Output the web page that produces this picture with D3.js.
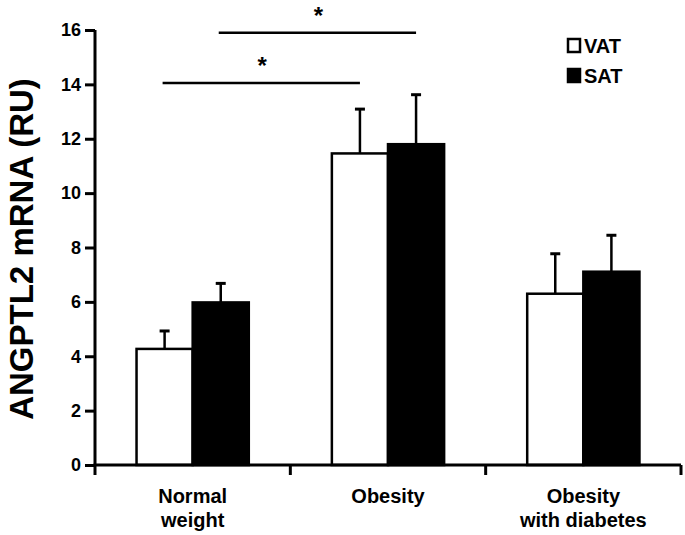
<!DOCTYPE html>
<html><head><meta charset="utf-8">
<script src="https://cdn.jsdelivr.net/npm/d3@7"></script>
<style>body{margin:0;background:#fff}svg{display:block;font-family:Arial,"Liberation Sans",sans-serif;font-weight:bold}</style>
</head><body>
<script>
const categories = [["Normal","weight"],["Obesity"],["Obesity","with diabetes"]];
const categoryKeys = ["Normal weight","Obesity","Obesity with diabetes"];
const seriesNames = ["VAT","SAT"];
const vatMean = [4.27, 11.46, 6.30];
const vatErr = [0.66, 1.63, 1.47];
const satMean = [5.98, 11.80, 7.11];
const satErr = [0.70, 1.82, 1.34];
const yTicks = [0,2,4,6,8,10,12,14,16];
const sigPairs = [
  {from:[0,"VAT"], to:[1,"VAT"], y:14.05, label:"*"},
  {from:[0,"SAT"], to:[1,"SAT"], y:15.9, label:"*"}
];

const W=685,H=535;
const svg=d3.select("body").append("svg").attr("width",W).attr("height",H);
const y=d3.scaleLinear().domain([0,16]).range([465,30]);
const x0=d3.scaleBand().domain(categoryKeys).range([95,681]).paddingInner(0).paddingOuter(0);
const x1=d3.scaleBand().domain(seriesNames).range([0,x0.bandwidth()]).paddingInner(0).paddingOuter(0.74);

const data=categoryKeys.map((k,i)=>({k,vals:[
  {s:"VAT",v:vatMean[i],e:vatErr[i]},{s:"SAT",v:satMean[i],e:satErr[i]}]}));

const g=svg.append("g");
const grp=g.selectAll(".grp").data(data).join("g").attr("transform",d=>`translate(${x0(d.k)},0)`);
grp.selectAll(".err").data(d=>d.vals).join("g").each(function(d){
  const cx=x1(d.s)+x1.bandwidth()/2;
  const s=d3.select(this);
  s.append("line").attr("x1",cx).attr("x2",cx).attr("y1",y(d.v)).attr("y2",y(d.v+d.e)).attr("stroke","#000").attr("stroke-width",2.5);
  s.append("line").attr("x1",cx-5).attr("x2",cx+5).attr("y1",y(d.v+d.e)).attr("y2",y(d.v+d.e)).attr("stroke","#000").attr("stroke-width",3);
});
grp.selectAll("rect").data(d=>d.vals).join("rect")
  .attr("x",d=>x1(d.s)).attr("width",x1.bandwidth())
  .attr("y",d=>y(d.v)).attr("height",d=>y(0)-y(d.v))
  .attr("fill",d=>d.s==="VAT"?"#fff":"#000").attr("stroke","#000").attr("stroke-width",2.5);

// y axis
const ya=svg.append("g").attr("transform","translate(95,0)")
  .call(d3.axisLeft(y).tickValues(yTicks).tickSize(10).tickPadding(4).tickFormat(d3.format("d")));
ya.select(".domain").attr("stroke-width",3).attr("d",`M0,${y(0)}V${y(16)}`);
ya.selectAll(".tick line").attr("stroke-width",3);
ya.selectAll("text").attr("font-size",18).attr("font-weight","bold").attr("font-family","Arial,'Liberation Sans',sans-serif").attr("fill","#000");

// x axis
const xa=svg.append("g").attr("transform",`translate(0,${y(0)})`);
xa.append("line").attr("x1",93.5).attr("x2",681).attr("y1",0).attr("y2",0).attr("stroke","#000").attr("stroke-width",3);
const bounds=[95,...categoryKeys.map(k=>x0(k)+x0.bandwidth())];
xa.selectAll(".xt").data(bounds).join("line").attr("x1",d=>d).attr("x2",d=>d).attr("y1",0).attr("y2",10).attr("stroke","#000").attr("stroke-width",3);
xa.selectAll(".xl").data(categoryKeys).join("text")
  .attr("text-anchor","middle").attr("font-size",20)
  .attr("transform",d=>`translate(${x0(d)+x0.bandwidth()/2},0)`)
  .each(function(d,i){
    const t=d3.select(this);
    categories[i].forEach((line,j)=>t.append("tspan").attr("x",0).attr("y",38+j*24).text(line));
  });

// y label
svg.append("text").attr("transform",`translate(33,249) rotate(-90)`)
  .attr("text-anchor","middle").attr("font-size",33).text("ANGPTL2 mRNA (RU)");

// significance
sigPairs.forEach(p=>{
  const xa_=x0(categoryKeys[p.from[0]])+x1(p.from[1])+x1.bandwidth()/2;
  const xb=x0(categoryKeys[p.to[0]])+x1(p.to[1])+x1.bandwidth()/2;
  svg.append("line").attr("x1",xa_-2).attr("x2",xb).attr("y1",y(p.y)).attr("y2",y(p.y)).attr("stroke","#000").attr("stroke-width",2.5);
  svg.append("text").attr("x",(xa_+xb)/2).attr("y",y(p.y)-9).attr("text-anchor","middle").attr("font-size",24).text(p.label);
});

// legend
const lg=svg.append("g").attr("transform","translate(567,38)");
seriesNames.forEach((s,i)=>{
  lg.append("rect").attr("x",1).attr("y",i*30+1).attr("width",12).attr("height",13)
    .attr("fill",s==="VAT"?"#fff":"#000").attr("stroke","#000").attr("stroke-width",2.5);
  lg.append("text").attr("x",17).attr("y",i*30+15).attr("font-size",20).text(s);
});
</script>
</body></html>
